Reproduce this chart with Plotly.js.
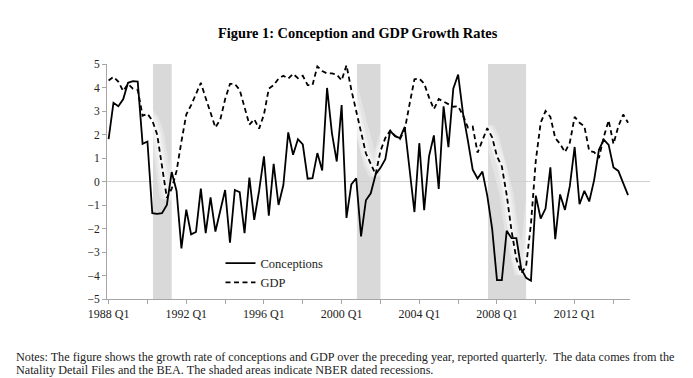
<!DOCTYPE html>
<html>
<head>
<meta charset="utf-8">
<script src="https://cdn.plot.ly/plotly-3.0.1.min.js"></script>
<style>
  html, body { margin: 0; padding: 0; background: #fff; }
  #chart { width: 693px; height: 378px; }
</style>
</head>
<body>
<div id="chart"></div>
<script>
// Quarterly data, 1988 Q1 .. 2014 Q4 (index 0 = 1988 Q1)
const conceptions = [
  1.8, 3.35, 3.2, 3.5, 4.2, 4.27, 4.25, 1.6, 1.7, -1.35,
  -1.38, -1.35, -1.0, 0.4, -0.4, -2.85, -1.2, -2.25, -2.15, -0.3,
  -2.2, -0.68, -2.13, -1.25, -0.36, -2.6, -0.36, -0.45, -2.2, 0.17,
  -1.63, -0.4, 1.07, -1.45, 0.75, -1.0, -0.15, 2.09, 1.14, 1.8,
  1.58, 0.12, 0.14, 1.21, 0.47, 3.98, 2.06, 0.85, 3.25, -1.55,
  -0.12, 0.14, -2.34, -0.8, -0.5, 0.3, 0.58, 0.95, 2.15, 1.93,
  1.85, 2.32, 0.5, -1.3, 1.63, -1.22, 1.07, 1.96, -0.32, 3.2,
  1.46, 3.95, 4.55, 2.9, 1.75, 0.5, 0.13, 0.42, -0.6, -2.0,
  -4.2, -4.2, -2.1, -2.41, -2.41, -3.72, -4.1, -4.22, -0.6, -1.58,
  -1.15, 0.6, -2.45, -0.55, -1.21, -0.2, 1.47, -0.97, -0.4, -0.85,
  0.05, 1.35, 1.78, 1.56, 0.6, 0.45, -0.07, -0.58
];
const gdp = [
  4.3, 4.45, 4.25, 3.85, 4.15, 3.95, 3.9, 2.8, 2.88, 2.6,
  2.0, 0.7, -0.7, -0.3, 0.45, 1.7, 2.85, 3.25, 3.72, 4.2,
  3.55, 2.91, 2.3, 2.63, 3.5, 4.15, 4.15, 3.9, 3.1, 2.42,
  2.65, 2.25, 2.85, 3.95, 4.1, 4.38, 4.5, 4.38, 4.58, 4.4,
  4.5, 4.1, 4.1, 4.9, 4.7, 4.6, 4.6, 4.55, 4.3, 4.95,
  3.9, 3.0, 2.0, 1.2, 0.75, 0.3, 1.3, 1.85, 2.17, 1.95,
  1.8, 2.2, 3.3, 4.35, 4.38, 4.17, 3.58, 3.08, 3.51, 3.39,
  3.28, 3.18, 3.2, 2.82, 2.3, 2.34, 1.23, 1.74, 2.27, 1.88,
  1.07, 0.64, -0.57, -2.1, -3.3, -3.9, -3.6, -1.8, 0.9, 2.5,
  3.0, 2.75, 1.85, 1.6, 1.25, 1.65, 2.75, 2.5, 2.35, 1.3,
  1.25, 1.0, 1.9, 2.6, 1.6, 2.35, 2.85, 2.5
];
const xTickLabels = ['1988 Q1', '1992 Q1', '1996 Q1', '2000 Q1', '2004 Q1', '2008 Q1', '2012 Q1'];
// NBER recessions, as quarter indices (start, end)
const recessionStart = [10, 52, 79];
const recessionEnd = [12, 55, 85];
const yTicks = [-5, -4, -3, -2, -1, 0, 1, 2, 3, 4, 5];

const xs = conceptions.map((_, i) => i);
const tickvals = [], ticktext = [];
for (let k = 0; k < xTickLabels.length * 2; k++) {
  tickvals.push(k * 8);
  ticktext.push(k % 2 === 0 ? xTickLabels[k / 2] : '');
}

const serif = '"Liberation Serif", "DejaVu Serif", serif';

const glow = (w, a) => ({ x: xs, y: gdp, type: 'scatter', mode: 'lines', showlegend: false,
  hoverinfo: 'skip', line: { color: 'rgba(255,255,255,' + a + ')', width: w } });

const traces = [
  glow(14, 0.3), glow(9, 0.35), glow(5, 0.45),
  { x: xs, y: conceptions, type: 'scatter', mode: 'lines', name: 'Conceptions',
    line: { color: '#000', width: 1.8 } },
  { x: xs, y: gdp, type: 'scatter', mode: 'lines', name: 'GDP',
    line: { color: '#000', width: 1.8, dash: '5px,3.5px' } }
];

const shapes = recessionStart.map((s, i) => ({
  type: 'rect', layer: 'below', xref: 'x', yref: 'paper',
  x0: s - 0.85, x1: recessionEnd[i] + 1.0, y0: 0, y1: 1,
  fillcolor: '#d9d9d9', line: { width: 0 }
}));
shapes.push({
  type: 'line', layer: 'below', xref: 'paper', yref: 'y',
  x0: 0, x1: 1.038, y0: 0, y1: 0,
  line: { color: '#cfcfcf', width: 1 }
});

const layout = {
  width: 693, height: 378,
  margin: { l: 107, r: 63, t: 64, b: 79 },
  paper_bgcolor: '#fff', plot_bgcolor: 'rgba(0,0,0,0)',
  font: { family: serif, color: '#222', size: 11 },
  title: {
    text: '<b>Figure 1: Conception and GDP Growth Rates</b>',
    font: { family: serif, size: 14.4, color: '#000' },
    x: 0.516, xref: 'container', xanchor: 'center',
    y: 0.912, yref: 'container', yanchor: 'middle'
  },
  xaxis: {
    range: [-0.33, 107.4], showgrid: false, zeroline: false,
    showline: true, linecolor: '#a6a6a6', linewidth: 1,
    ticks: 'outside', ticklen: 4, tickcolor: '#a6a6a6',
    tickmode: 'array', tickvals: tickvals, ticktext: ticktext,
    tickfont: { family: serif, size: 12, color: '#222' }
  },
  yaxis: {
    range: [-5, 5], showgrid: false, zeroline: false,
    showline: true, linecolor: '#a6a6a6', linewidth: 1,
    ticks: 'outside', ticklen: 4, tickcolor: '#a6a6a6',
    tickmode: 'array', tickvals: yTicks, ticksuffix: ' ',
    tickfont: { family: serif, size: 11.5, color: '#222' }
  },
  legend: {
    x: 0.217, y: 0.215, xanchor: 'left', yanchor: 'top',
    bgcolor: 'rgba(0,0,0,0)', font: { family: serif, size: 12.5, color: '#222' },
    tracegroupgap: 0
  },
  shapes: shapes,
  annotations: [
    { xref: 'paper', yref: 'paper', x: -0.178, y: -0.2468, xanchor: 'left', yanchor: 'middle',
      showarrow: false, align: 'left', font: { family: serif, size: 12.2, color: '#222' },
      text: 'Notes: The figure shows the growth rate of conceptions and GDP over the preceding year, reported quarterly.&nbsp; The data comes from the' },
    { xref: 'paper', yref: 'paper', x: -0.178, y: -0.302, xanchor: 'left', yanchor: 'middle',
      showarrow: false, align: 'left', font: { family: serif, size: 12.2, color: '#222' },
      text: 'Natality Detail Files and the BEA. The shaded areas indicate NBER dated recessions.' }
  ],
  showlegend: true
};

Plotly.newPlot('chart', traces, layout, { displayModeBar: false, staticPlot: true });
</script>
</body>
</html>
